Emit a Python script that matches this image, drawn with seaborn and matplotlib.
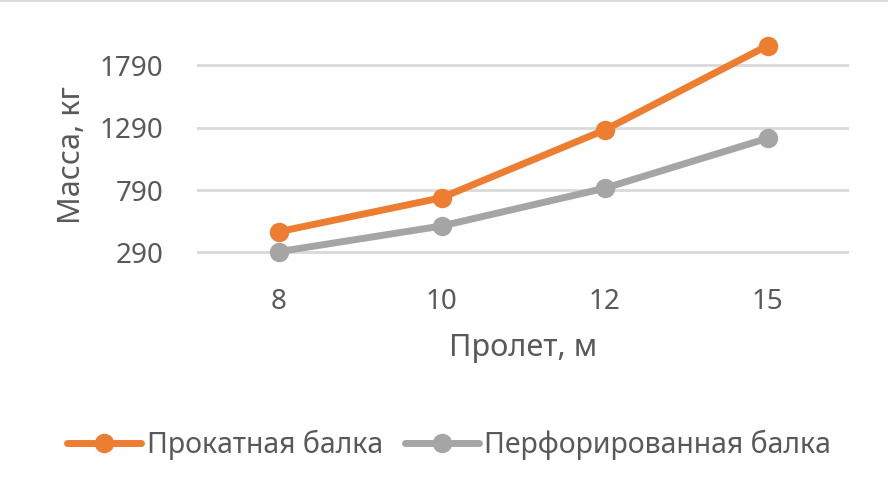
import matplotlib
matplotlib.use("Agg")
import matplotlib.pyplot as plt
import seaborn as sns
import pandas as pd

spans = ["8", "10", "12", "15"]
rolled = [455, 728, 1271, 1948]
perforated = [295, 501, 804, 1205]
series_names = ["Прокатная балка", "Перфорированная балка"]
yticks = [290, 790, 1290, 1790]

df = pd.DataFrame({
    "span": spans * 2,
    "mass": rolled + perforated,
    "series": [series_names[0]] * 4 + [series_names[1]] * 4,
})

sns.set_theme(style="white")
plt.rcParams["font.family"] = ["Noto Sans", "DejaVu Sans"]
text_color = "#595959"

fig = plt.figure(figsize=(8.88, 4.94), dpi=100)
ax = fig.add_axes([197 / 888, 1 - 280 / 494, 652 / 888, 250 / 494])

sns.lineplot(data=df, x="span", y="mass", hue="series", hue_order=series_names,
             palette=["#ED7D31", "#A5A5A5"], marker="o", markersize=14,
             markeredgewidth=0, linewidth=5, sort=False, ax=ax, zorder=3,
             solid_capstyle="round")

ax.set_xlim(-0.5, 3.5)
ax.set_ylim(68, 2074)
ax.set_yticks(yticks)
ax.set_yticklabels([str(v) for v in yticks])
ax.yaxis.grid(True, color="#D9D9D9", linewidth=2)
ax.xaxis.grid(False)
for s in ax.spines.values():
    s.set_visible(False)
ax.tick_params(axis="both", colors=text_color, labelsize=20, length=0)
ax.tick_params(axis="y", pad=24)
ax.tick_params(axis="x", pad=6)
ax.set_xlabel("Пролет, м", fontsize=22, color=text_color, labelpad=12)
ax.set_ylabel("Масса, кг", fontsize=22, color=text_color, labelpad=9)

handles, labels = ax.get_legend_handles_labels()
for h in handles:
    h.set_solid_capstyle("round")
ax.get_legend().remove()
fig.legend(handles, labels, loc="center", bbox_to_anchor=(0.506, 1 - 445 / 494),
           ncol=2, frameon=False, fontsize=20.5, labelcolor=text_color,
           handlelength=2.6, handletextpad=0.2, columnspacing=0.75)

fig.add_artist(plt.Line2D([0, 1], [0.999, 0.999], transform=fig.transFigure,
                          color="#D9D9D9", linewidth=2))

fig.savefig("out.png", dpi=100)
